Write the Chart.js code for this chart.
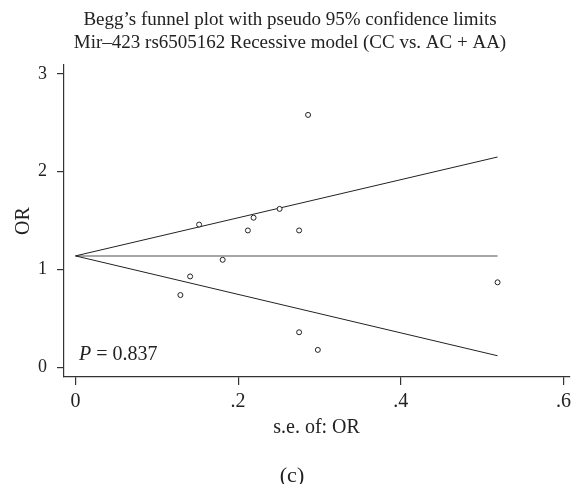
<!DOCTYPE html>
<html>
<head>
<meta charset="utf-8">
<script src="https://cdn.jsdelivr.net/npm/chart.js@4.4.1/dist/chart.umd.min.js"></script>
<style>
  html, body { margin: 0; padding: 0; background: #fff; }
  #wrap { width: 576px; height: 484px; position: relative; }
</style>
</head>
<body>
<div id="wrap"><canvas id="chart"></canvas></div>
<script>
// study points: standard error of OR vs OR
const seValues = [0.286, 0.152, 0.212, 0.219, 0.251, 0.275, 0.181, 0.141, 0.129, 0.275, 0.298, 0.519];
const orValues = [2.58, 1.46, 1.40, 1.53, 1.62, 1.40, 1.10, 0.93, 0.74, 0.36, 0.18, 0.87];

// pseudo 95% confidence limits
const limitSe = [0, 0.519];
const upperLimit = [1.14, 2.15];
const lowerLimit = [1.14, 0.12];
const pooledOR = [1.14, 1.14];

const xTicks = [0, 0.2, 0.4, 0.6];
const yTicks = [0, 1, 2, 3];

const titleLines = [
  'Begg\u2019s funnel plot with pseudo 95% confidence limits',
  'Mir\u2013423 rs6505162 Recessive model (CC vs. AC + AA)'
];
const pLabel = '0.837';
const panelLabel = '(c)';

const serif = '"Liberation Serif", "Times New Roman", serif';
const ink = '#222';

const toXY = (xs, ys) => xs.map((x, i) => ({ x: x, y: ys[i] }));

// extra text: P value and panel letter
const notes = {
  id: 'notes',
  afterDraw(chart) {
    const { ctx, chartArea } = chart;
    ctx.save();
    ctx.fillStyle = ink;
    ctx.textBaseline = 'alphabetic';
    ctx.textAlign = 'left';
    ctx.font = 'italic 20px ' + serif;
    const px = chartArea.left + 15;
    const py = chartArea.bottom - 17;
    ctx.fillText('P', px, py);
    const pw = ctx.measureText('P').width;
    ctx.font = '20px ' + serif;
    ctx.fillText(' = ' + pLabel, px + pw, py);
    ctx.textAlign = 'center';
    ctx.textBaseline = 'middle';
    ctx.font = '22px ' + serif;
    ctx.fillText(panelLabel, 292, 476);
    ctx.restore();
  }
};

const lineStyle = (color, width) => ({
  showLine: true,
  borderColor: color,
  borderWidth: width,
  pointRadius: 0,
  fill: false
});

new Chart(document.getElementById('chart'), {
  type: 'scatter',
  data: {
    datasets: [
      {
        data: toXY(seValues, orValues),
        pointRadius: 2.5,
        pointBorderWidth: 1,
        pointBorderColor: ink,
        pointBackgroundColor: '#fff'
      },
      Object.assign({ data: toXY(limitSe, upperLimit) }, lineStyle(ink, 1)),
      Object.assign({ data: toXY(limitSe, lowerLimit) }, lineStyle(ink, 1)),
      Object.assign({ data: toXY(limitSe, pooledOR) }, lineStyle('#8a8a8a', 1.5))
    ]
  },
  options: {
    responsive: true,
    maintainAspectRatio: false,
    animation: false,
    layout: { padding: { top: 0, right: 6, bottom: 39, left: 10 } },
    plugins: {
      legend: { display: false },
      tooltip: { enabled: false },
      title: {
        display: true,
        text: titleLines,
        color: ink,
        font: { family: serif, size: 19, weight: 'normal', lineHeight: 1.21 },
        padding: { top: 9, bottom: 10 }
      }
    },
    scales: {
      x: {
        type: 'linear',
        min: -0.0141,
        max: 0.607,
        afterFit: (scale) => { scale.height = 68; },
        afterBuildTicks: (scale) => { scale.ticks = xTicks.map(v => ({ value: v })); },
        border: { display: true, color: '#333', width: 1.2 },
        grid: { drawOnChartArea: false, drawTicks: true, tickLength: 8, color: '#333', lineWidth: 1.2 },
        ticks: {
          color: ink,
          padding: 5,
          maxRotation: 0,
          font: { family: serif, size: 20 },
          callback: (v) => v === 0 ? '0' : String(v).replace(/^0/, '')
        },
        title: {
          display: true,
          text: 's.e. of: OR',
          color: ink,
          font: { family: serif, size: 20 },
          padding: { top: 0, bottom: 5 }
        }
      },
      y: {
        type: 'linear',
        min: -0.097,
        max: 3.09,
        afterFit: (scale) => { scale.width = 54; },
        afterBuildTicks: (scale) => { scale.ticks = yTicks.map(v => ({ value: v })); },
        border: { display: true, color: '#333', width: 1.2 },
        grid: { drawOnChartArea: false, drawTicks: true, tickLength: 7, color: '#333', lineWidth: 1.2 },
        ticks: {
          color: ink,
          padding: 10,
          font: { family: serif, size: 18 }
        },
        title: {
          display: true,
          text: 'OR',
          color: ink,
          font: { family: serif, size: 20 },
          padding: { top: 2, bottom: 0 }
        }
      }
    }
  },
  plugins: [notes]
});
</script>
</body>
</html>
